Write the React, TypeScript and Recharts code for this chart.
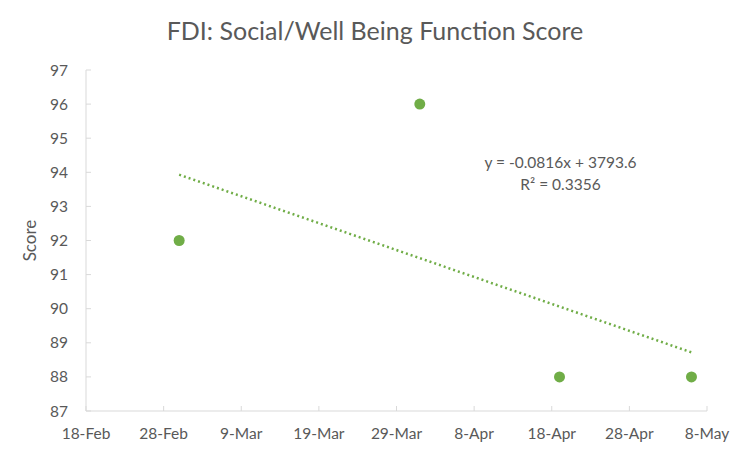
import { ScatterChart, Scatter, XAxis, YAxis, Label } from 'recharts';

const scoreDates = ['2020-03-01', '2020-04-01', '2020-04-19', '2020-05-06'];
const scoreValues = [92, 96, 88, 88];

// trendline endpoints
const trendDates = ['2020-03-01', '2020-05-06'];
const trendValues = [93.93, 88.72];

const tickDates = [
  '2020-02-18', '2020-02-28', '2020-03-09', '2020-03-19', '2020-03-29',
  '2020-04-08', '2020-04-18', '2020-04-28', '2020-05-08',
];
const yTicks = [87, 88, 89, 90, 91, 92, 93, 94, 95, 96, 97];
const monthNames = ['Jan', 'Feb', 'Mar', 'Apr', 'May', 'Jun', 'Jul', 'Aug', 'Sep', 'Oct', 'Nov', 'Dec'];

const toTime = (d: string) => new Date(d + 'T00:00:00Z').getTime();
const fmtDate = (t: number) => {
  const d = new Date(t);
  return `${d.getUTCDate()}-${monthNames[d.getUTCMonth()]}`;
};

const points = scoreDates.map((d, i) => ({ x: toTime(d), y: scoreValues[i] }));
const trend = trendDates.map((d, i) => ({ x: toTime(d), y: trendValues[i] }));
const xTicks = tickDates.map(toTime);

const GREEN = '#70AD47';
const TEXT = '#595959';
const AXIS = '#D9D9D9';
const FONT = 'Lato, "Open Sans", sans-serif';

export default function App() {
  return (
    <div style={{ position: 'absolute', left: 0, top: 0, width: 750, height: 456, background: '#fff', fontFamily: FONT }}>
      <div style={{ position: 'absolute', top: 15, width: 750, textAlign: 'center', fontSize: 25, color: TEXT }}>
        FDI: Social/Well Being Function Score
      </div>
      <ScatterChart width={750} height={456} margin={{ top: 70, right: 43, bottom: 0, left: 0 }}>
        <XAxis
          type="number"
          dataKey="x"
          domain={[xTicks[0], xTicks[xTicks.length - 1]]}
          ticks={xTicks}
          tickFormatter={fmtDate}
          interval={0}
          height={45}
          stroke={AXIS}
          tickSize={-5}
          tickMargin={22}
          tick={{ fill: TEXT, fontSize: 15.5, fontFamily: FONT }}
        />
        <YAxis
          type="number"
          dataKey="y"
          domain={[87, 97]}
          ticks={yTicks}
          interval={0}
          width={86}
          stroke={AXIS}
          tickSize={-5}
          tickMargin={23}
          tick={{ fill: TEXT, fontSize: 15.5, fontFamily: FONT }}
        >
          <Label value="Score" angle={-90} position="insideLeft" offset={30} style={{ fill: TEXT, fontSize: 17, fontFamily: FONT, textAnchor: 'middle' }} />
        </YAxis>
        <Scatter
          data={trend}
          line={{ stroke: GREEN, strokeWidth: 2.5, strokeDasharray: '2 3' }}
          shape={() => <g />}
          isAnimationActive={false}
        />
        <Scatter data={points} fill={GREEN} isAnimationActive={false}
          shape={(p: any) => <circle cx={p.cx} cy={p.cy} r={5.5} fill={GREEN} />} />
      </ScatterChart>
      <div style={{ position: 'absolute', left: 458, top: 151, width: 205, textAlign: 'center', fontSize: 15.5, color: TEXT, lineHeight: '22px' }}>
        y = -0.0816x + 3793.6
        <br />
        R² = 0.3356
      </div>
    </div>
  );
}
